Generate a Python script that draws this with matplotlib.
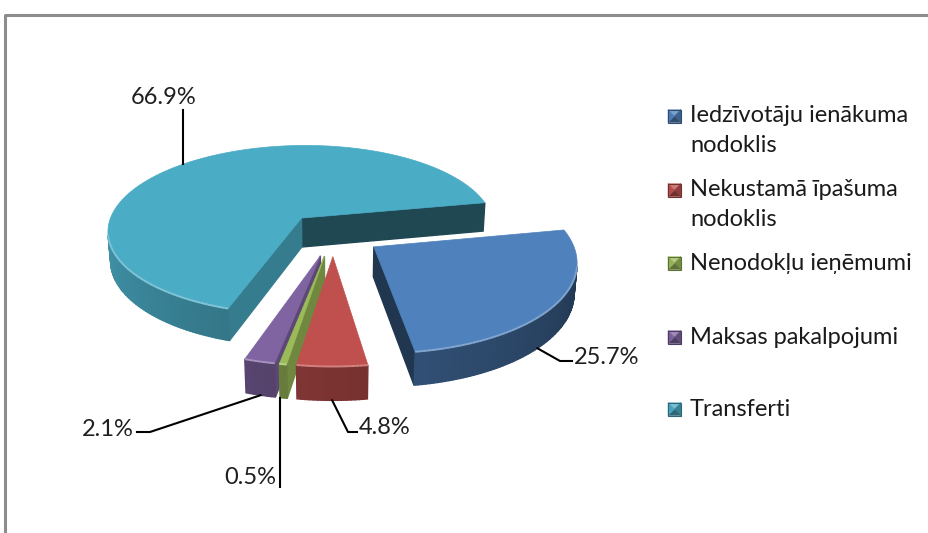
"""
Exploded 3D pie of municipal revenue structure, drawn by hand with a simple
perspective projection so the slices get Excel-like side walls.
"""

import numpy as np
import matplotlib
matplotlib.use("Agg")
import matplotlib.pyplot as plt
from matplotlib.patches import Polygon

# Data
labels = ["Iedzīvotāju ienākuma\nnodoklis", "Nekustamā īpašuma\nnodoklis",
          "Nenodokļu ieņēmumi", "Maksas pakalpojumi", "Transferti"]
shares = [25.7, 4.8, 0.5, 2.1, 66.9]
pct_labels = ["25.7%", "4.8%", "0.5%", "2.1%", "66.9%"]
colors = ["#4F81BD", "#C0504D", "#9BBB59", "#8064A2", "#4BACC6"]

FONT = "Lato"

# Projection settings (pixel space of the 929x533 canvas)
FIRST_ANGLE = 79.0          # degrees clockwise from 12 o'clock
EXPLODE = 0.25
TILT = np.radians(26.4)
DIST = 6.3
FOCAL = 1235
CX, CY = 333, 234
H = 0.17

CAM = np.array([0.0, -DIST * np.cos(TILT), DIST * np.sin(TILT)])


def project(u, v, z):
    u, v, z = np.asarray(u, float), np.asarray(v, float), np.asarray(z, float)
    yc = v * np.sin(TILT) + z * np.cos(TILT)
    d = DIST + v * np.cos(TILT) - z * np.sin(TILT)
    return CX + FOCAL * u / d, CY - FOCAL * yc / d, d


def shade(col, f):
    rgb = np.array(matplotlib.colors.to_rgb(col))
    return tuple(np.clip(rgb * f, 0, 1))


def tint(col, f):
    rgb = np.array(matplotlib.colors.to_rgb(col))
    return tuple(rgb + (1 - rgb) * f)


def wall_factor(deg):
    deg = deg % 360
    return 0.4 + 0.48 * np.clip((deg - 90) / 180, 0, 1)


fig = plt.figure(figsize=(9.29, 5.33), dpi=100)
ax = fig.add_axes([0, 0, 1, 1])
ax.set_xlim(0, 929)
ax.set_ylim(533, 0)
ax.axis("off")

edges = FIRST_ANGLE + np.cumsum([0] + shares) / sum(shares) * 360
# where along each slice the leader line starts (degrees from the bisector)
anchor_shift = [8, 0, 1, 0, -3]

walls = []   # (depth, xs, ys, color)
tops = []
rims = []
anchors = []
for i, col in enumerate(colors):
    t0, t1 = np.radians(edges[i]), np.radians(edges[i + 1])
    mid = (t0 + t1) / 2
    ou, ov = EXPLODE * np.sin(mid), EXPLODE * np.cos(mid)
    th = np.linspace(t0, t1, max(int(np.degrees(t1 - t0)), 2) + 1)
    u = ou + np.sin(th)
    v = ov + np.cos(th)

    x, y, _ = project(np.r_[ou, u], np.r_[ov, v], 0)
    tops.append((x, y, col))

    # outer curved wall
    for k in range(len(th) - 1):
        tm = (th[k] + th[k + 1]) / 2
        nrm = np.array([np.sin(tm), np.cos(tm), 0])
        p = np.array([ou + np.sin(tm), ov + np.cos(tm), -H / 2])
        if np.dot(CAM - p, nrm) <= 0:
            continue
        qu = [u[k], u[k + 1], u[k + 1], u[k]]
        qv = [v[k], v[k + 1], v[k + 1], v[k]]
        qx, qy, qd = project(qu, qv, [0, 0, -H, -H])
        walls.append((qd.mean(), qx, qy, shade(col, wall_factor(np.degrees(tm)))))
        rims.append((qx[:2], qy[:2], tint(col, 0.3)))

    # radial cut faces
    for t, sgn, fac in ((t0, -1, 0.72), (t1, 1, 0.42)):
        nrm = np.array([np.sin(t + sgn * np.pi / 2), np.cos(t + sgn * np.pi / 2), 0])
        p = np.array([ou + 0.5 * np.sin(t), ov + 0.5 * np.cos(t), -H / 2])
        if np.dot(CAM - p, nrm) <= 0:
            continue
        qu = [ou, ou + np.sin(t), ou + np.sin(t), ou]
        qv = [ov, ov + np.cos(t), ov + np.cos(t), ov]
        qx, qy, qd = project(qu, qv, [0, 0, -H, -H])
        walls.append((qd.mean() + 0.05, qx, qy, shade(col, fac)))

    # anchor for the leader line
    tm = mid + np.radians(anchor_shift[i])
    zz = 0 if i == len(colors) - 1 else -H
    ax_, ay_, _ = project(ou + np.sin(tm), ov + np.cos(tm), zz)
    anchors.append((float(ax_), float(ay_)))

z = 1
for d, qx, qy, c in sorted(walls, key=lambda w: -w[0]):
    ax.add_patch(Polygon(np.c_[qx, qy], closed=True, facecolor=c, edgecolor=c,
                         lw=1.0, zorder=z))
    z += 1
for x, y, c in tops:
    ax.add_patch(Polygon(np.c_[x, y], closed=True, facecolor=c, edgecolor=c,
                         lw=0.5, zorder=z))
for rx, ry, c in rims:
    ax.plot(rx, ry, color=c, lw=1.4, zorder=z + 1, solid_capstyle="butt")

# Leader lines and percentage labels: elbow, end, text offset, alignment
# (None in the elbow means a straight vertical run from the anchor;
#  then the text x is relative to the line)
leaders = [
    ((560, 361), (572, 361), (574, 357), "left"),
    ((348, 432), (357, 432), (359, 428), "left"),
    ((None, 487), (None, 487), (-3, 478), "right"),
    ((150, 432), (137, 432), (134, 429), "right"),
    ((None, 110), (None, 110), (-19, 97), "center"),
]
for (a, (elb, end, txt, ha)), lab in zip(zip(anchors, leaders), pct_labels):
    ex = a[0] if elb[0] is None else elb[0]
    nx = a[0] if end[0] is None else end[0]
    ax.plot([a[0], ex, nx], [a[1], elb[1], end[1]], color="black",
            lw=1.5, zorder=z + 2)
    tx = nx + txt[0] if elb[0] is None else txt[0]
    ax.text(tx, txt[1], lab, ha=ha, va="center", fontsize=17,
            family=FONT, color="#1f1f1f", zorder=z + 2)

# Legend with bevelled markers
leg_y = [116, 190, 263, 337, 409]
for yy, lab, col in zip(leg_y, labels, colors):
    x0, s = 668, 13
    corners = [(x0, yy - s / 2), (x0 + s, yy - s / 2), (x0 + s, yy + s / 2), (x0, yy + s / 2)]
    facs = [1.15, 0.75, 0.6, 0.95]
    for k in range(4):
        tri = [corners[k], corners[(k + 1) % 4], (x0 + s / 2, yy)]
        fc = tint(col, 0.25) if facs[k] > 1 else shade(col, facs[k])
        ax.add_patch(Polygon(tri, closed=True, facecolor=fc, edgecolor=fc, lw=0.3))
    ax.add_patch(Polygon(corners, closed=True, fill=False, edgecolor=shade(col, 0.6), lw=0.8))
    for j, ln in enumerate(lab.split("\n")):
        ax.text(690, yy + j * 29, ln, ha="left", va="center", fontsize=17,
                family=FONT, color="#1a1a1a")

# Frame of the chart area
ax.plot([5, 5, 929], [533, 15, 15], color="#8c8c8c", lw=2.2, solid_capstyle="butt")

plt.savefig("out.png", dpi=100)
